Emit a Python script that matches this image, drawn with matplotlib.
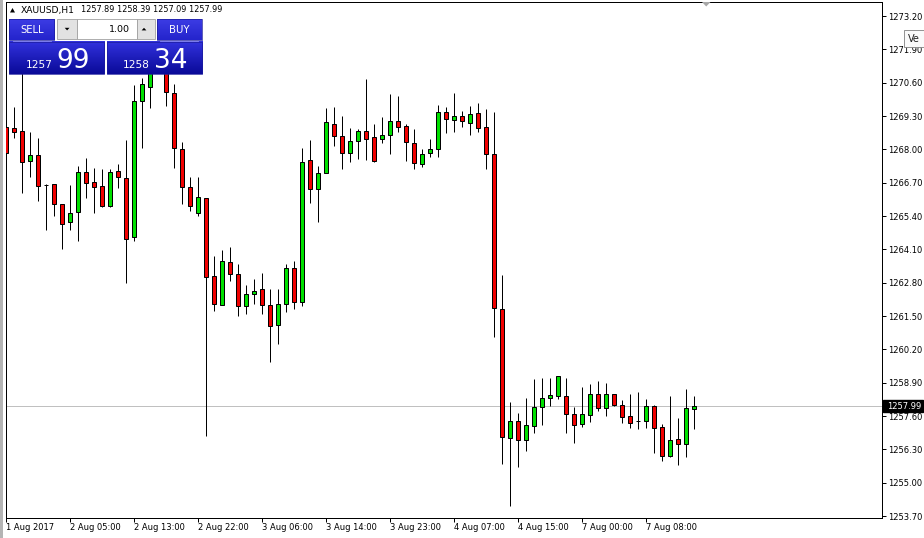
"""MT4-style XAUUSD H1 candlestick chart with one-click trading panel."""
import matplotlib
matplotlib.use("Agg")
import matplotlib.pyplot as plt
import numpy as np
from matplotlib.patches import Rectangle, Polygon
from matplotlib.colors import LinearSegmentedColormap

# hourly bars, 1 Aug 21:00 .. 7 Aug 14:00
opens = [1268.88, 1268.82, 1268.72, 1267.53, 1267.77, 1266.61, 1266.64, 1265.86,
         1265.15, 1265.54, 1267.10, 1266.71, 1266.56, 1265.80, 1267.16, 1266.87,
         1264.57, 1269.87, 1270.42, 1271.55, 1271.20, 1270.19, 1268.00, 1266.52,
         1265.51, 1266.09, 1263.05, 1261.92, 1263.59, 1263.13, 1261.88, 1262.35,
         1262.54, 1261.92, 1261.14, 1261.96, 1263.36, 1262.03, 1267.58, 1266.44,
         1267.07, 1268.98, 1268.51, 1267.85, 1268.31, 1268.70, 1268.47, 1268.39,
         1268.55, 1269.09, 1268.90, 1268.24, 1267.42, 1267.85, 1268.00, 1269.44,
         1269.13, 1269.29, 1269.02, 1269.41, 1268.86, 1267.81, 1261.76, 1256.73,
         1257.39, 1256.65, 1257.20, 1257.94, 1258.29, 1258.37, 1258.37, 1257.67,
         1257.28, 1257.63, 1258.45, 1257.90, 1258.45, 1258.02, 1257.59, 1257.40,
         1257.39, 1257.98, 1257.16, 1256.03, 1256.69, 1256.50, 1257.89]
highs = [1269.60, 1269.66, 1271.30, 1268.69, 1268.43, 1266.63, 1266.66, 1265.88,
         1266.61, 1267.35, 1267.65, 1267.26, 1267.23, 1267.22, 1267.43, 1268.36,
         1270.51, 1270.77, 1271.60, 1271.90, 1271.50, 1270.54, 1268.30, 1266.91,
         1266.91, 1266.12, 1263.84, 1264.07, 1264.19, 1263.53, 1262.71, 1262.94,
         1263.18, 1262.55, 1262.55, 1263.52, 1263.65, 1268.05, 1268.36, 1267.35,
         1269.60, 1269.65, 1269.30, 1268.83, 1268.79, 1270.74, 1268.99, 1269.26,
         1270.16, 1270.08, 1268.98, 1268.78, 1268.00, 1268.39, 1269.72, 1269.64,
         1270.20, 1269.48, 1269.68, 1269.80, 1269.57, 1269.44, 1263.09, 1258.13,
         1257.71, 1258.29, 1259.03, 1259.07, 1259.07, 1259.16, 1259.07, 1257.94,
         1258.72, 1258.84, 1258.95, 1258.88, 1258.46, 1258.21, 1258.45, 1258.52,
         1258.25, 1258.02, 1257.28, 1258.37, 1257.51, 1258.64, 1258.39]
lows = [1267.82, 1268.45, 1266.31, 1266.93, 1266.00, 1264.85, 1265.41, 1264.10,
        1264.85, 1264.43, 1266.11, 1265.53, 1265.76, 1265.76, 1266.48, 1262.78,
        1264.44, 1268.04, 1269.62, 1271.00, 1269.69, 1267.28, 1265.86, 1265.60,
        1265.40, 1256.83, 1261.71, 1261.91, 1262.88, 1261.51, 1261.57, 1261.96,
        1261.59, 1259.72, 1260.42, 1261.67, 1261.79, 1261.90, 1265.92, 1265.18,
        1267.07, 1268.14, 1267.25, 1267.52, 1267.63, 1267.58, 1267.52, 1268.26,
        1267.83, 1268.66, 1267.56, 1267.22, 1267.30, 1267.71, 1267.69, 1268.63,
        1268.66, 1268.86, 1268.55, 1268.69, 1267.22, 1260.67, 1255.72, 1254.10,
        1255.62, 1256.25, 1256.93, 1257.24, 1257.98, 1258.25, 1256.93, 1256.54,
        1257.16, 1257.35, 1257.78, 1257.59, 1257.98, 1257.32, 1257.12, 1257.08,
        1257.12, 1256.15, 1255.83, 1255.99, 1255.68, 1255.99, 1257.09]
closes = [1267.85, 1268.69, 1267.49, 1267.77, 1266.58, 1266.61, 1265.86, 1265.08,
          1265.51, 1267.10, 1266.68, 1266.54, 1265.79, 1267.13, 1266.91, 1264.49,
          1269.87, 1270.54, 1271.35, 1271.20, 1270.22, 1268.04, 1266.54, 1265.79,
          1266.13, 1263.03, 1261.98, 1263.63, 1263.13, 1261.88, 1262.35, 1262.46,
          1261.92, 1261.10, 1261.96, 1263.36, 1262.03, 1267.49, 1266.44, 1267.07,
          1269.05, 1268.51, 1267.85, 1268.31, 1268.70, 1268.39, 1267.53, 1268.55,
          1269.09, 1268.86, 1268.27, 1267.46, 1267.81, 1268.00, 1269.44, 1269.17,
          1269.29, 1269.09, 1269.37, 1268.82, 1267.81, 1261.80, 1256.79, 1257.39,
          1256.65, 1257.24, 1257.94, 1258.29, 1258.41, 1259.15, 1257.67, 1257.24,
          1257.67, 1258.45, 1257.90, 1258.45, 1258.02, 1257.55, 1257.32, 1257.39,
          1257.98, 1257.12, 1256.03, 1256.65, 1256.50, 1257.90, 1257.99]

time_labels = ["1 Aug 2017", "2 Aug 05:00", "2 Aug 13:00", "2 Aug 22:00",
               "3 Aug 06:00", "3 Aug 14:00", "3 Aug 23:00", "4 Aug 07:00",
               "4 Aug 15:00", "7 Aug 00:00", "7 Aug 08:00"]
label_step = 8

price_ticks = [1273.20, 1271.90, 1270.60, 1269.30, 1268.00, 1266.70, 1265.40,
               1264.10, 1262.80, 1261.50, 1260.20, 1258.90, 1257.60, 1256.30,
               1255.00, 1253.70]

symbol = "XAUUSD,H1"
last_price = 1257.99
bid_big, bid_small = "1257", "99"
ask_big, ask_small = "1258", "34"
lot_size = "1.00"

W, H = 924, 538
plt.rcParams["font.family"] = ["DejaVu Sans"]

fig = plt.figure(figsize=(W / 100, H / 100), dpi=100)
ax = fig.add_axes([6 / W, 20.5 / H, 876 / W, 516 / H])

o = np.array(opens)
h = np.array(highs)
l = np.array(lows)
c = np.array(closes)
x = np.arange(len(o))
up = c > o
body_col = np.where(up, "#00e000", "#f00000")

ax.axhline(last_price, color="#c0c0c0", lw=0.72, zorder=1)
ax.vlines(x, l, h, color="black", lw=0.72, zorder=2)
ax.bar(x, np.abs(c - o), bottom=np.minimum(o, c), width=0.48,
       color=body_col, edgecolor="black", linewidth=0.72, zorder=3)

ax.set_xlim(-0.0375, 109.4625)
ax.set_ylim(1253.642, 1273.766)

ax.yaxis.tick_right()
ax.set_yticks(price_ticks)
ax.set_yticklabels([f"{p:.2f}" for p in price_ticks])
ax.set_xticks(np.arange(0, len(time_labels) * label_step, label_step))
ax.set_xticklabels(time_labels, ha="left")
ax.tick_params(axis="y", direction="out", length=2.9, width=0.72, pad=1.4,
               labelsize=6, colors="black")
ax.tick_params(axis="x", direction="out", length=2.9, width=0.72, pad=1.2,
               labelsize=6, colors="black")
for sp in ax.spines.values():
    sp.set_linewidth(0.72)
    sp.set_color("black")

# current price tag on the right scale
ytr = ax.get_yaxis_transform()
ax.add_patch(Rectangle((1 + 1 / 876, last_price - 6 / 25.641), 40 / 876,
                       12 / 25.641, transform=ytr, fc="black", ec="black",
                       clip_on=False, zorder=6))
ax.text(1 + 5 / 876, last_price, f"{last_price:.2f}", transform=ytr,
        ha="left", va="center", color="white", fontsize=6, clip_on=False,
        zorder=7)

# overlay in pixel coordinates for the terminal widgets
ov = fig.add_axes([0, 0, 1, 1], zorder=10)
ov.axis("off")

ov.add_patch(Rectangle((0, 0), 2.5, H, fc="#b4b4b4", ec="none"))
ov.add_patch(Polygon([(702, 2), (710.5, 2), (706.2, 6.5)], fc="#a8a8a8", ec="none"))

ov.add_patch(Polygon([(10, 12.5), (15, 12.5), (12.5, 8)], fc="black", ec="none"))
ov.text(20.5, 10, symbol, fontsize=6.6, ha="left", va="center", color="black")
ov.text(81, 10, f"{opens[-1]:.2f} {highs[-1]:.2f} {lows[-1]:.2f} {closes[-1]:.2f}",
        fontsize=5.85, ha="left", va="center", color="black")

btn_cmap = LinearSegmentedColormap.from_list("btn", ["#3c3ce4", "#2424cc"])
box_cmap = LinearSegmentedColormap.from_list("box", ["#3232de", "#0a0a98"])
grad = np.linspace(0, 1, 64).reshape(-1, 1)


def blue_box(x0, x1, y0, y1, cmap):
    ov.imshow(grad, cmap=cmap, extent=(x0, x1, y1, y0), aspect="auto",
              interpolation="bilinear", zorder=1)
    ov.add_patch(Rectangle((x0, y0), x1 - x0, y1 - y0, fc="none",
                           ec="#1c1c9c", lw=0.5, zorder=2))


blue_box(9, 54.3, 19, 40, btn_cmap)
blue_box(156.7, 201.7, 19, 40, btn_cmap)
blue_box(9, 104.3, 41.7, 74.5, box_cmap)
blue_box(106.7, 202.3, 41.7, 74.5, box_cmap)
ov.plot([13, 51], [40.5, 40.5], color="#8a8af0", lw=0.6, zorder=3)
ov.plot([160, 198], [40.5, 40.5], color="#8a8af0", lw=0.6, zorder=3)

ov.text(31.7, 29.8, "SELL", fontsize=7.2, color="white", ha="center",
        va="center", zorder=4)
ov.text(179.2, 29.8, "BUY", fontsize=7.3, color="white", ha="center",
        va="center", zorder=4)

ov.add_patch(Rectangle((57.3, 19.3), 19.4, 20, fc="#e2e2e2", ec="#a0a0a0",
                       lw=0.6, zorder=2))
ov.add_patch(Rectangle((76.7, 19.3), 60.6, 20, fc="white", ec="#a0a0a0",
                       lw=0.6, zorder=2))
ov.add_patch(Rectangle((137.3, 19.3), 17.7, 20, fc="#e2e2e2", ec="#a0a0a0",
                       lw=0.6, zorder=2))
ov.add_patch(Polygon([(64.7, 27.8), (69.5, 27.8), (67.1, 30.4)], fc="black",
                     ec="none", zorder=3))
ov.add_patch(Polygon([(141.6, 30.4), (146.4, 30.4), (144, 27.8)], fc="black",
                     ec="none", zorder=3))
ov.text(130, 29.3, lot_size, fontsize=6.8, color="black", ha="right",
        va="center", zorder=4)

ov.text(25.5, 68.3, bid_big, fontsize=7.7, color="white", ha="left",
        va="baseline", zorder=4)
ov.text(56, 68.3, bid_small, fontsize=19, color="white", ha="left",
        va="baseline", zorder=4)
ov.text(122.5, 68.3, ask_big, fontsize=7.7, color="white", ha="left",
        va="baseline", zorder=4)
ov.text(154, 68.3, ask_small, fontsize=19, color="white", ha="left",
        va="baseline", zorder=4)

# hover tooltip cut by the window edge
ov.add_patch(Rectangle((904.3, 30), 22, 17, fc="#fafafa", ec="#808080",
                       lw=0.6, zorder=2))
ov.text(907.5, 39, "Ve", fontsize=7, color="#202020", ha="left", va="center",
        zorder=3)

ov.set_xlim(0, W)
ov.set_ylim(H, 0)

fig.savefig("out.png", dpi=100)
plt.close(fig)
